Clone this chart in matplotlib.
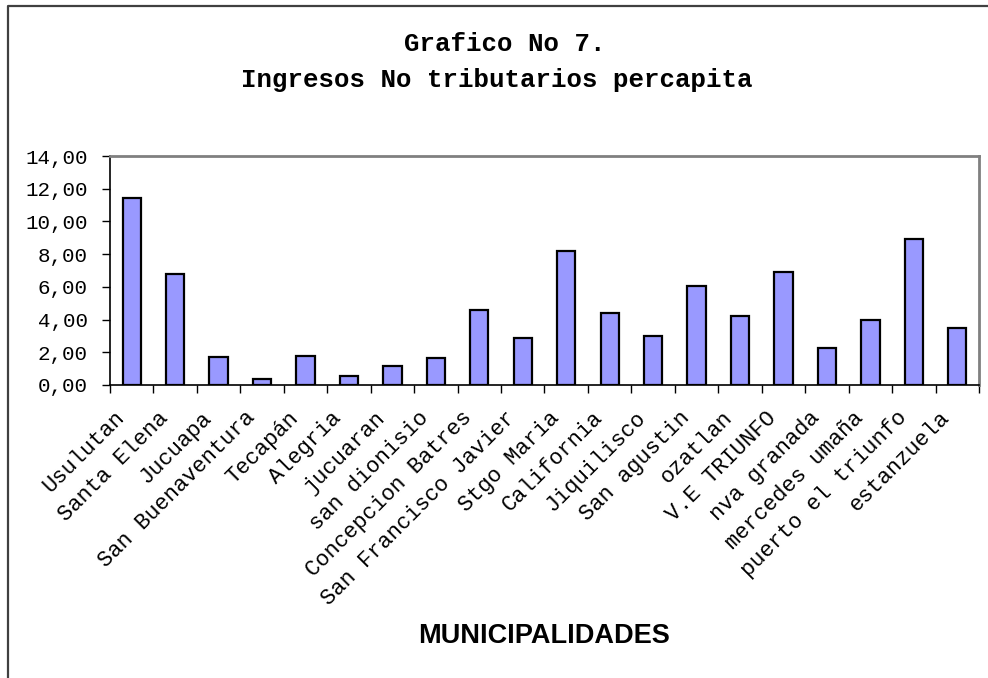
import numpy as np
import matplotlib.pyplot as plt
from matplotlib.lines import Line2D
from matplotlib.ticker import FuncFormatter
import matplotlib.transforms as mtransforms

municipios = ['Usulutan', 'Santa Elena', 'Jucuapa', 'San Buenaventura', 'Tecapán',
              'Alegria', 'jucuaran', 'san dionisio', 'Concepcion Batres',
              'San Francisco Javier', 'Stgo Maria', 'California', 'Jiquilisco',
              'San agustin', 'ozatlan', 'V.E TRIUNFO', 'nva granada',
              'mercedes umaña', 'puerto el triunfo', 'estanzuela']
ingresos = [11.45, 6.78, 1.73, 0.35, 1.77, 0.55, 1.16, 1.63, 4.56, 2.87,
            8.19, 4.40, 3.00, 6.05, 4.22, 6.89, 2.28, 3.97, 8.94, 3.47]
y_ticks = [0, 2, 4, 6, 8, 10, 12, 14]

mono = 'Liberation Mono'

fig = plt.figure(figsize=(9.88, 6.78), dpi=100)
ax = fig.add_axes([0.1113, 0.4322, 0.8796, 0.3377])

x = np.arange(len(municipios))
ax.bar(x, ingresos, width=0.42, color='#9999FF', edgecolor='black', linewidth=1.6, zorder=3)

ax.set_xlim(-0.5, len(municipios) - 0.5)
ax.set_ylim(0, 14)
ax.set_yticks(y_ticks)
ax.yaxis.set_major_formatter(FuncFormatter(lambda v, p: f'{v:.2f}'.replace('.', ',')))

# category labels at bar centres, tick marks between categories
ax.set_xticks(x)
ax.set_xticklabels(municipios, rotation=45, ha='right', va='top',
                   fontfamily=mono, fontsize=15.8)
ax.set_xticks(np.arange(-0.5, len(municipios)), minor=True)
ax.tick_params(axis='x', which='major', length=0, pad=16)
ax.tick_params(axis='x', which='minor', length=6, width=1, color='black', direction='out')
ax.tick_params(axis='y', length=6, width=1, color='black', direction='out', pad=10)
for lab in ax.get_yticklabels():
    lab.set_fontfamily(mono)
    lab.set_fontsize(15)

shift = mtransforms.ScaledTranslation(-3 / 100, 0, fig.dpi_scale_trans)
for lab in ax.get_xticklabels():
    lab.set_transform(lab.get_transform() + shift)

for side in ['top', 'right']:
    ax.spines[side].set_color('#808080')
    ax.spines[side].set_linewidth(2)
for side in ['left', 'bottom']:
    ax.spines[side].set_color('black')
    ax.spines[side].set_linewidth(1.2)

fig.text(0.511, 1 - 44 / 678, 'Grafico No 7.', ha='center', va='center',
         fontfamily=mono, fontweight='bold', fontsize=18.5)
fig.text(0.503, 1 - 80 / 678, 'Ingresos No tributarios percapita', ha='center', va='center',
         fontfamily=mono, fontweight='bold', fontsize=18.5)
fig.text(544 / 988, 1 - 636 / 678, 'MUNICIPALIDADES', ha='center', va='center',
         fontfamily='Liberation Sans', fontweight='bold', fontsize=19.5)

# chart frame (top and left edges visible)
fig.add_artist(Line2D([8 / 988, 8 / 988, 1.0], [0.0, 1 - 6 / 678, 1 - 6 / 678],
                      transform=fig.transFigure, color='#404040', linewidth=1.6))

fig.savefig('out.png', dpi=100)
